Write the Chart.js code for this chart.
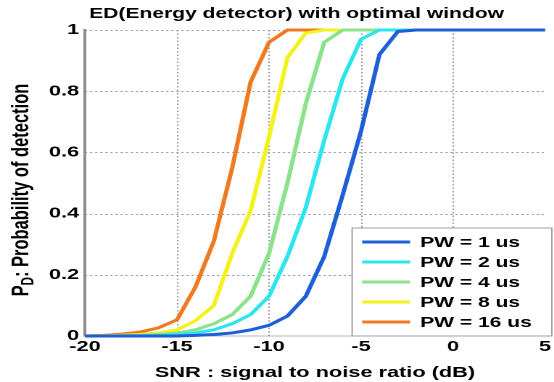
<!DOCTYPE html>
<html>
<head>
<meta charset="utf-8">
<script src="https://cdn.jsdelivr.net/npm/chart.js@4.4.1/dist/chart.umd.min.js"></script>
<style>
  html, body { margin: 0; padding: 0; background: #fff; overflow: hidden; }
  /* the reference is stretched sideways, so draw narrow and widen it */
  #wrap { width: 382px; height: 382px; transform: scaleX(1.4503); transform-origin: 0 0; }
</style>
</head>
<body>
<div id="wrap"><canvas id="chart" width="382" height="382"></canvas></div>
<script>
// SNR in dB, one point per dB
const snr = [-20, -19, -18, -17, -16, -15, -14, -13, -12, -11, -10, -9, -8,
  -7, -6, -5, -4, -3, -2, -1, 0, 1, 2, 3, 4, 5];

// probability of detection
const pw1 = [0, 0, 0, 0, 0, 0, 0.002, 0.005, 0.01, 0.02, 0.035, 0.065, 0.13,
  0.26, 0.46, 0.67, 0.92, 0.995, 1, 1, 1, 1, 1, 1, 1, 1];
const pw2 = [0, 0, 0, 0.001, 0.002, 0.005, 0.01, 0.02, 0.04, 0.07, 0.13, 0.26, 0.42,
  0.64, 0.84, 0.97, 1, 1, 1, 1, 1, 1, 1, 1, 1, 1];
const pw4 = [0, 0, 0.001, 0.002, 0.005, 0.01, 0.02, 0.04, 0.07, 0.13, 0.27, 0.5, 0.76,
  0.96, 1, 1, 1, 1, 1, 1, 1, 1, 1, 1, 1, 1];
const pw8 = [0, 0.001, 0.002, 0.005, 0.01, 0.02, 0.05, 0.1, 0.27, 0.41, 0.65, 0.91, 0.99,
  1, 1, 1, 1, 1, 1, 1, 1, 1, 1, 1, 1, 1];
const pw16 = [0, 0.002, 0.006, 0.013, 0.027, 0.053, 0.16, 0.31, 0.55, 0.83, 0.96, 1, 1,
  1, 1, 1, 1, 1, 1, 1, 1, 1, 1, 1, 1, 1];

const seriesLabels = ["PW = 1 us", "PW = 2 us", "PW = 4 us", "PW = 8 us", "PW = 16 us"];
const seriesValues = [pw1, pw2, pw4, pw8, pw16];
const seriesColors = ["#1d5fd8", "#2ee4ee", "#8ae28a", "#f2f21e", "#f07a22"];

const xGridAt = [-15, -10, -5, 0];
const yGridAt = [0.2, 0.4, 0.6, 0.8, 1];

const FONT = "'Liberation Sans', Arial, sans-serif";

const datasets = seriesValues.map((vals, i) => ({
  label: seriesLabels[i],
  data: vals.map((v, k) => ({ x: snr[k], y: v })),
  borderColor: seriesColors[i],
  backgroundColor: seriesColors[i],
  borderWidth: 3,
  pointRadius: 0,
  tension: 0,
  clip: false,
}));

// dotted grid, title, rotated y title with subscript, boxed legend inside the plot
const decorations = {
  id: "decorations",
  beforeDatasetsDraw(chart) {
    const { ctx, chartArea: a, scales } = chart;
    ctx.save();
    ctx.strokeStyle = "#9a9a9a";
    ctx.lineWidth = 1;
    ctx.setLineDash([1.5, 2]);
    ctx.beginPath();
    xGridAt.forEach((v) => {
      const px = Math.round(scales.x.getPixelForValue(v)) + 0.5;
      ctx.moveTo(px, a.top);
      ctx.lineTo(px, a.bottom);
    });
    yGridAt.forEach((v) => {
      const py = Math.round(scales.y.getPixelForValue(v)) + 0.5;
      ctx.moveTo(a.left, py);
      ctx.lineTo(a.right, py);
    });
    ctx.stroke();
    ctx.restore();
  },
  afterDatasetsDraw(chart) {
    const ctx = chart.ctx;
    ctx.save();
    const x0 = 242.8, y0 = 228, x1 = 380.5, y1 = 336;
    ctx.fillStyle = "#fff";
    ctx.fillRect(x0, y0, x1 - x0, y1 - y0);
    ctx.strokeStyle = "#a0a0a0";
    ctx.lineWidth = 1;
    ctx.strokeRect(x0, y0, x1 - x0, y1 - y0);
    ctx.font = `bold 14.5px ${FONT}`;
    ctx.textBaseline = "middle";
    ctx.textAlign = "left";
    seriesLabels.forEach((lab, i) => {
      const y = 242 + 20 * i;
      ctx.strokeStyle = seriesColors[i];
      ctx.lineWidth = 3;
      ctx.beginPath();
      ctx.moveTo(249.7, y);
      ctx.lineTo(282.8, y);
      ctx.stroke();
      ctx.fillStyle = "#000";
      ctx.fillText(lab, 289.7, y + 1);
    });
    ctx.restore();
  },
  afterDraw(chart) {
    const ctx = chart.ctx;
    ctx.save();
    ctx.fillStyle = "#000";
    ctx.textBaseline = "middle";
    ctx.textAlign = "center";
    ctx.font = `bold 14.5px ${FONT}`;
    ctx.fillText("ED(Energy detector) with optimal window", 204.5, 14);

    ctx.translate(15, 190);
    ctx.rotate(-Math.PI / 2);
    const big = `bold 16.5px ${FONT}`;
    const small = `bold 11.5px ${FONT}`;
    const rest = ": Probability of detection";
    ctx.font = big;
    const wP = ctx.measureText("P").width;
    const wR = ctx.measureText(rest).width;
    ctx.font = small;
    const wD = ctx.measureText("D").width;
    let x = -(wP + wD + wR) / 2;
    ctx.textAlign = "left";
    ctx.font = big;
    ctx.fillText("P", x, 0);
    x += wP;
    ctx.font = small;
    ctx.fillText("D", x, 5);
    x += wD;
    ctx.font = big;
    ctx.fillText(rest, x, 0);
    ctx.restore();
  },
};

new Chart(document.getElementById("chart"), {
  type: "line",
  data: { datasets },
  options: {
    responsive: false,
    animation: false,
    devicePixelRatio: 2,
    layout: { padding: { top: 30, right: 0, left: 0, bottom: 0 } },
    plugins: { legend: { display: false }, title: { display: false }, tooltip: { enabled: false } },
    scales: {
      x: {
        type: "linear",
        min: -20,
        max: 5,
        ticks: { stepSize: 5, color: "#000", font: { family: FONT, size: 15, weight: "bold" }, padding: 2 },
        grid: { drawOnChartArea: false, drawTicks: false },
        border: { display: true, color: "#b4b4b4", width: 1 },
        title: {
          display: true,
          text: "SNR : signal to noise ratio (dB)",
          color: "#000",
          font: { family: FONT, size: 15, weight: "bold" },
          padding: { top: 0, bottom: 0 },
        },
        afterFit: (s) => { s.height = 46; },
      },
      y: {
        min: 0,
        max: 1,
        ticks: {
          stepSize: 0.2,
          color: "#000",
          font: { family: FONT, size: 15, weight: "bold" },
          padding: 4,
          callback: (v) => String(+v.toFixed(1)),
        },
        grid: { drawOnChartArea: false, drawTicks: false },
        border: { display: true, color: "#8c8c8c", width: 2 },
        afterFit: (s) => { s.width = 58.6; },
      },
    },
  },
  plugins: [decorations],
});
</script>
</body>
</html>
